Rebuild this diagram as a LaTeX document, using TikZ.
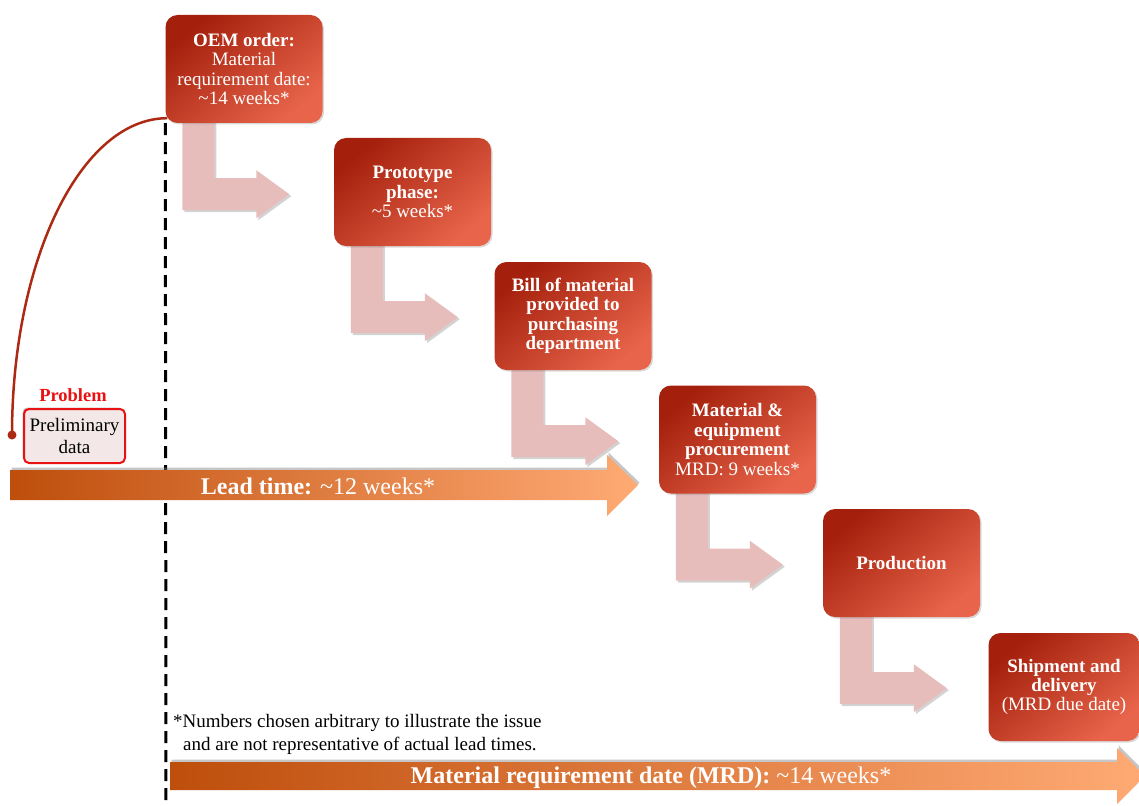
\documentclass[tikz,border=0pt]{standalone}
\usepackage{fontspec}
\setmainfont{Liberation Serif}
\usetikzlibrary{calc,shadows}

\definecolor{stagedark}{RGB}{164,32,12}
\definecolor{stagelight}{RGB}{232,100,74}
\definecolor{stepfill}{RGB}{231,189,188}
\definecolor{barleft}{RGB}{190,78,12}
\definecolor{barright}{RGB}{255,170,116}
\definecolor{linkred}{RGB}{172,42,20}
\definecolor{probred}{RGB}{232,18,18}
\definecolor{probfill}{RGB}{243,231,231}

\pgfdeclarelayer{background}
\pgfsetlayers{background,main}

\tikzset{
  stage/.style={rectangle, rounded corners=12pt, minimum width=157pt,
    minimum height=108pt, inner sep=2pt, align=center, text=white,
    font=\fontsize{19}{19.4}\selectfont,
    top color=stagedark, bottom color=stagelight, shading angle=40,
    drop shadow={opacity=0.3, shadow xshift=1.5pt, shadow yshift=-1.5pt}},
  stepshape/.style={fill=stepfill,
    drop shadow={opacity=0.35, shadow xshift=2pt, shadow yshift=-2pt}},
  barshape/.style={left color=barleft, right color=barright,
    drop shadow={opacity=0.45, shadow xshift=1.5pt, shadow yshift=2.5pt}},
  bartext/.style={text=white, font=\fontsize{24}{28}\selectfont, inner sep=0pt},
  guide/.style={black, line width=3pt, dash pattern=on 12pt off 7pt},
  probbox/.style={rectangle, rounded corners=5pt, draw=probred, line width=2pt,
    fill=probfill, minimum width=101pt, minimum height=54pt, inner sep=1pt,
    align=center, font=\fontsize{19}{22}\selectfont,
    drop shadow={opacity=0.55, shadow xshift=-1.5pt, shadow yshift=1.5pt}},
  notetext/.style={anchor=base west, inner sep=0pt, font=\fontsize{19}{23}\selectfont}
}

% L-shaped step arrow hanging from the bottom of a stage box
\newcommand\stagelink[1]{%
  \path[stepshape] ($(#1.south west)+(17,-2)$) -- ++(32,0) -- ++(0,57)
    -- ++(42,0) -- ++(0,-8) -- ++(33,24) -- ++(-33,24) -- ++(0,-8)
    -- ++(-74,0) -- cycle;}

\begin{document}
\begin{tikzpicture}[x=1pt,y=-1pt]
\useasboundingbox (0,0) rectangle (1139,805);

% stage boxes
\node[stage] (oem) at (244,69)
  {\textbf{OEM order:}\\Material\\requirement date:\\\textasciitilde14 weeks*};
\node[stage] (proto) at (412.5,192)
  {\textbf{Prototype}\\\textbf{phase:}\\\textasciitilde5 weeks*};
\node[stage] (bom) at (573,316)
  {\textbf{Bill of material}\\\textbf{provided to}\\\textbf{purchasing}\\\textbf{department}};
\node[stage] (proc) at (737.5,439.5)
  {\textbf{Material \&}\\\textbf{equipment}\\\textbf{procurement}\\MRD: 9 weeks*};
\node[stage] (prod) at (901.5,563) {\textbf{Production}};
\node[stage, minimum width=151pt] (ship) at (1064,687)
  {\textbf{Shipment and}\\\textbf{delivery}\\(MRD due date)};

% step arrows between the stages
\begin{pgfonlayer}{background}
  \stagelink{oem}
  \stagelink{proto}
  \stagelink{bom}
  \stagelink{proc}
  \stagelink{prod}
\end{pgfonlayer}

% dashed marker below the OEM order
\coordinate (dashend) at (166,805);
\draw[guide] (oem.south west) -- (dashend);

% lead time bar
\coordinate (leadtail) at (10,485);
\coordinate (leadtip) at (638,485);
\path[barshape] ($(leadtail)+(0,-15)$) -- ++(597,0) -- ++(0,-15) -- (leadtip)
  -- ++(-31,31) -- ++(0,-16) -- ++(-597,0) -- cycle;
\node[bartext] (leadlbl) at (318,486) {\textbf{Lead time:} \textasciitilde12 weeks*};

% material requirement date bar
\coordinate (mrdtail) at (170,776);
\coordinate (mrdtip) at (1145,776);
\path[barshape] ($(mrdtail)+(0,-14)$) -- ++(947,0) -- ++(0,-14) -- (mrdtip)
  -- ++(-28,28) -- ++(0,-14) -- ++(-947,0) -- cycle;
\node[bartext] (mrdlbl) at (651,778)
  {\textbf{Material requirement date (MRD):} \textasciitilde14 weeks*};

% problem callout
\node[font=\fontsize{18.5}{20}\selectfont\bfseries, text=probred, inner sep=0pt]
  (problbl) at (73,395) {Problem};
\node[probbox] (prelim) at (74.5,436) {Preliminary\\data};
\coordinate (linkend) at (12,435);
\draw[linkred, line width=2.5pt] ($(oem.south west)+(2,-5)$)
  .. controls +(-86,0) and +(0,-176) .. (linkend);
\fill[linkred] (linkend) circle (4.5pt);

% footnote
\node[notetext] (note1) at (173,727) {*Numbers chosen arbitrary to illustrate the issue};
\node[notetext] (note2) at (183,750) {and are not representative of actual lead times.};
\end{tikzpicture}
\end{document}
